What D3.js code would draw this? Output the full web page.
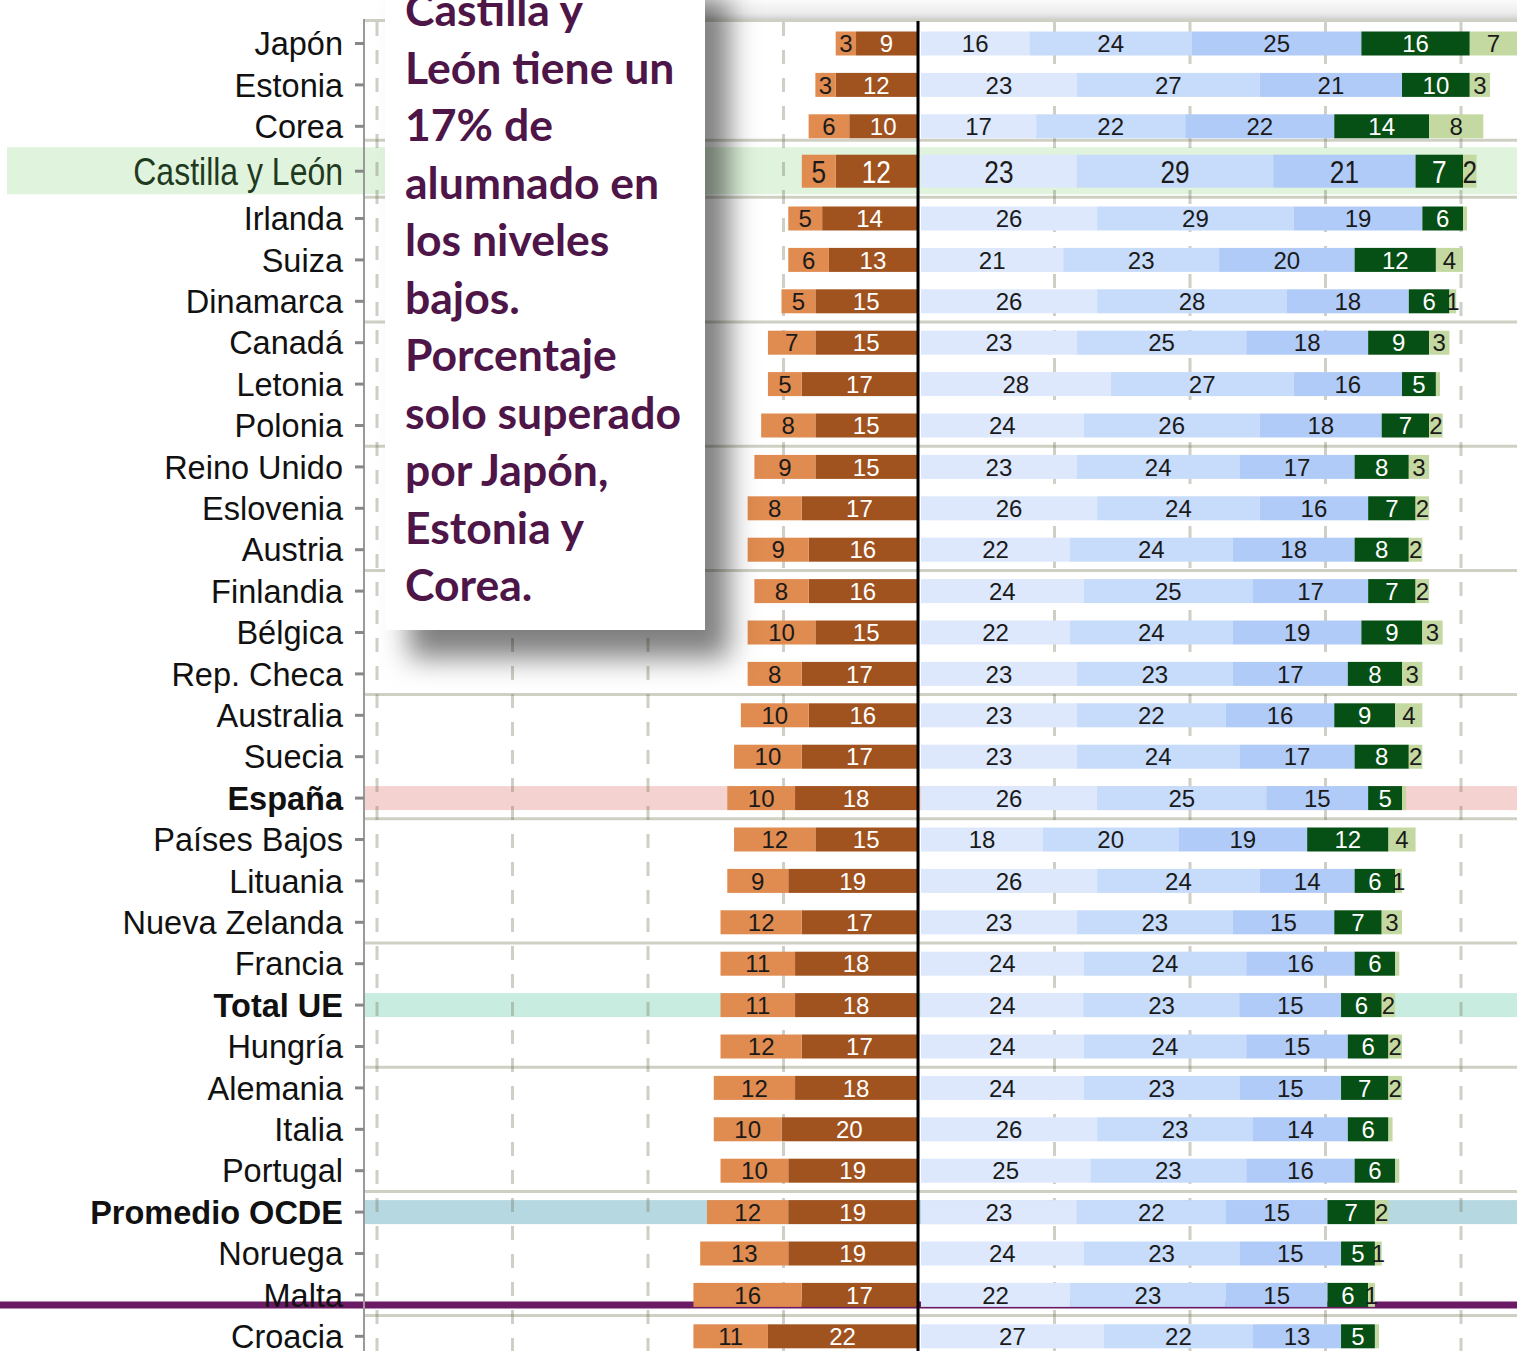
<!DOCTYPE html>
<html>
<head>
<meta charset="utf-8">
<script src="https://cdn.jsdelivr.net/npm/d3@7"></script>
<style>
  body { margin: 0; background: #fff; }
  svg { display: block; }
</style>
</head>
<body>
<div id="chart"></div>
<script>
// Rows, top to bottom
var countries = ["Japón", "Estonia", "Corea", "Castilla y León", "Irlanda", "Suiza", "Dinamarca",
  "Canadá", "Letonia", "Polonia", "Reino Unido", "Eslovenia", "Austria", "Finlandia", "Bélgica",
  "Rep. Checa", "Australia", "Suecia", "España", "Países Bajos", "Lituania", "Nueva Zelanda",
  "Francia", "Total UE", "Hungría", "Alemania", "Italia", "Portugal", "Promedio OCDE", "Noruega",
  "Malta", "Croacia"];

// Percentages per level
var below1 = [3, 3, 6, 5, 5, 6, 5, 7, 5, 8, 9, 8, 9, 8, 10, 8, 10, 10, 10, 12, 9, 12, 11, 11, 12, 12, 10, 10, 12, 13, 16, 11];
var level1 = [9, 12, 10, 12, 14, 13, 15, 15, 17, 15, 15, 17, 16, 16, 15, 17, 16, 17, 18, 15, 19, 17, 18, 18, 17, 18, 20, 19, 19, 19, 17, 22];
var level2 = [16, 23, 17, 23, 26, 21, 26, 23, 28, 24, 23, 26, 22, 24, 22, 23, 23, 23, 26, 18, 26, 23, 24, 24, 24, 24, 26, 25, 23, 24, 22, 27];
var level3 = [24, 27, 22, 29, 29, 23, 28, 25, 27, 26, 24, 24, 24, 25, 24, 23, 22, 24, 25, 20, 24, 23, 24, 23, 24, 23, 23, 23, 22, 23, 23, 22];
var level4 = [25, 21, 22, 21, 19, 20, 18, 18, 16, 18, 17, 16, 18, 17, 19, 17, 16, 17, 15, 19, 14, 15, 16, 15, 15, 15, 14, 16, 15, 15, 15, 13];
var level5 = [16, 10, 14, 7, 6, 12, 6, 9, 5, 7, 8, 7, 8, 7, 9, 8, 9, 8, 5, 12, 6, 7, 6, 6, 6, 7, 6, 6, 7, 5, 6, 5];
var level6 = [7, 3, 8, 2, 0.6, 4, 1, 3, 0.6, 2, 3, 2, 2, 2, 3, 3, 4, 2, 0.6, 4, 1, 3, 0.6, 2, 2, 2, 0.6, 0.6, 2, 1, 1, 0.6];

var xTicks = [-80, -60, -40, -20, 20, 40, 60, 80];

// Callout text
var noteLines = ["Castilla y", "León tiene un", "17% de", "alumnado en", "los niveles", "bajos.",
  "Porcentaje", "solo superado", "por Japón,", "Estonia y", "Corea."];

// Highlighted rows
var featured = "Castilla y León";
var boldRows = ["España", "Total UE", "Promedio OCDE"];
var bandColors = { "España": "#f3d2cf", "Total UE": "#c9ece1", "Promedio OCDE": "#b6d8e1" };

var width = 1517;
var height = 1351;
var leftColors = { below1: "#e08b50", level1: "#a0531f" };
var rightKeys = ["level2", "level3", "level4", "level5", "level6"];
var rightColors = ["#dde8fc", "#c7dbfa", "#b1cbf8", "#064f15", "#c4d9a1"];
var darkKeys = ["level1", "level5"];
var labelFont = "'Liberation Sans', Arial, sans-serif";

var table = countries.map((c, i) => ({
  country: c, below1: below1[i], level1: level1[i], level2: level2[i],
  level3: level3[i], level4: level4[i], level5: level5[i], level6: level6[i]
}));

var featIdx = countries.indexOf(featured);

// y: even steps, the featured row gets a bit more room
var yBase = d3.scaleLinear().domain([0, countries.length - 1]).range([43.5, 43.5 + 41.4 * (countries.length - 1)]);
function y(i) {
  if (i < featIdx) return yBase(i);
  if (i === featIdx) return yBase(i) + 3.5;
  return yBase(i) + 9.4;
}

var x = d3.scaleLinear().domain([-80, 80]).range([377, 1461]);
var gap = 2;
var axisX = 364;

var svg = d3.select("#chart").append("svg")
  .attr("width", width)
  .attr("height", height)
  .style("font-family", labelFont);

var defs = svg.append("defs");
var shadow = defs.append("filter").attr("id", "shadow")
  .attr("x", "-20%").attr("y", "-20%").attr("width", "150%").attr("height", "150%");
shadow.append("feDropShadow")
  .attr("dx", 24).attr("dy", 28).attr("stdDeviation", 14)
  .attr("flood-color", "#000").attr("flood-opacity", 0.5);

var topGrad = defs.append("linearGradient").attr("id", "topGrad")
  .attr("x1", 0).attr("y1", 0).attr("x2", 0).attr("y2", 1);
topGrad.append("stop").attr("offset", "0%").attr("stop-color", "#fbfbfb");
topGrad.append("stop").attr("offset", "70%").attr("stop-color", "#ececec");
topGrad.append("stop").attr("offset", "100%").attr("stop-color", "#d2d2d2");

// Faint shadow strip above the plot
svg.append("rect")
  .attr("x", 705).attr("y", 0).attr("width", width - 705).attr("height", 19)
  .attr("fill", "url(#topGrad)");

// Highlight bands
svg.append("rect")
  .attr("x", 7).attr("y", y(featIdx) - 24).attr("width", width - 7).attr("height", 47)
  .attr("fill", "#e0f4dd");

svg.selectAll(".band")
  .data(table.filter(d => bandColors[d.country]))
  .enter().append("rect")
  .attr("class", "band")
  .attr("x", axisX)
  .attr("y", d => y(countries.indexOf(d.country)) - 12)
  .attr("width", width - axisX)
  .attr("height", 24)
  .attr("fill", d => bandColors[d.country]);

// Horizontal grid lines every three rows
var hLines = [y(0) - 23, y(featIdx) - 31, y(featIdx) + 26];
for (var i = featIdx + 3; i < countries.length; i += 3) {
  hLines.push((y(i) + y(i + 1)) / 2);
}
svg.selectAll(".hgrid")
  .data(hLines)
  .enter().append("line")
  .attr("class", "hgrid")
  .attr("x1", axisX).attr("x2", width)
  .attr("y1", d => d).attr("y2", d => d)
  .attr("stroke", "#cfd0c3")
  .attr("stroke-width", 3);

// Vertical dashed grid lines
svg.selectAll(".vgrid")
  .data(xTicks)
  .enter().append("line")
  .attr("class", "vgrid")
  .attr("x1", d => x(d)).attr("x2", d => x(d))
  .attr("y1", 22).attr("y2", height)
  .attr("stroke", "rgba(110,110,80,0.33)")
  .attr("stroke-width", 3)
  .attr("stroke-dasharray", "14,14");

// Purple marker line under Malta
var maltaY = y(countries.indexOf("Malta"));
svg.append("line")
  .attr("x1", 0).attr("x2", width)
  .attr("y1", maltaY + 10).attr("y2", maltaY + 10)
  .attr("stroke", "#6b1a64")
  .attr("stroke-width", 7);

function barH(i) { return i === featIdx ? 33 : 24; }

// Left side: level 1 next to zero, below level 1 outside
var leftStack = d3.stack().keys(["level1", "below1"])(table);
var leftG = svg.selectAll(".left")
  .data(leftStack)
  .enter().append("g")
  .attr("class", "left")
  .attr("fill", d => leftColors[d.key]);

leftG.selectAll("rect")
  .data(d => d)
  .enter().append("rect")
  .attr("x", d => x(-d[1]) - gap)
  .attr("y", (d, i) => y(i) - barH(i) / 2)
  .attr("width", d => x(-d[0]) - x(-d[1]))
  .attr("height", (d, i) => barH(i));

// Right side: levels 2 to 6
var rightStack = d3.stack().keys(rightKeys)(table);
var rightG = svg.selectAll(".right")
  .data(rightStack)
  .enter().append("g")
  .attr("class", "right")
  .attr("fill", (d, k) => rightColors[k]);

rightG.selectAll("rect")
  .data(d => d)
  .enter().append("rect")
  .attr("x", d => x(d[0]) + gap)
  .attr("y", (d, i) => y(i) - barH(i) / 2)
  .attr("width", d => x(d[1]) - x(d[0]))
  .attr("height", (d, i) => barH(i));

// Segment labels (the featured row is bigger and condensed)
function addLabels(stack, sign, offset) {
  stack.forEach(layer => {
    svg.append("g").selectAll("text")
      .data(layer.map((d, i) => ({ d: d, i: i, v: d[1] - d[0] })).filter(e => e.v >= 1))
      .enter().append("text")
      .attr("transform", e => "translate(" + (x(sign * (e.d[0] + e.d[1]) / 2) + offset) + "," + y(e.i) + ")" +
        (e.i === featIdx ? " scale(0.82,1)" : ""))
      .attr("dy", "0.36em")
      .attr("text-anchor", "middle")
      .style("font-size", e => e.i === featIdx ? "32px" : "24px")
      .attr("fill", darkKeys.includes(layer.key) ? "#ffffff" : "#1a1a1a")
      .text(e => Math.round(e.v));
  });
}
addLabels(leftStack, -1, -gap);
addLabels(rightStack, 1, gap);

// Zero line
svg.append("line")
  .attr("x1", x(0) - 1).attr("x2", x(0) - 1)
  .attr("y1", 21).attr("y2", height)
  .attr("stroke", "#000")
  .attr("stroke-width", 3);

// Y axis
svg.append("line")
  .attr("x1", axisX).attr("x2", axisX)
  .attr("y1", 19).attr("y2", height)
  .attr("stroke", "#9a9a9a")
  .attr("stroke-width", 2);

svg.selectAll(".tick")
  .data(countries)
  .enter().append("line")
  .attr("class", "tick")
  .attr("x1", axisX - 9).attr("x2", axisX)
  .attr("y1", (d, i) => y(i)).attr("y2", (d, i) => y(i))
  .attr("stroke", "#888")
  .attr("stroke-width", 3);

svg.selectAll(".ylabel")
  .data(countries)
  .enter().append("text")
  .attr("class", "ylabel")
  .attr("transform", (d, i) => "translate(343," + y(i) + ")" + (d === featured ? " scale(0.82,1)" : ""))
  .attr("dy", "0.36em")
  .attr("text-anchor", "end")
  .style("font-size", d => d === featured ? "39px" : "32.5px")
  .style("font-weight", d => boldRows.includes(d) ? "bold" : "normal")
  .attr("fill", d => d === featured ? "#1f3a1f" : "#111")
  .text(d => d);

// Callout box
svg.append("rect")
  .attr("x", 385).attr("y", -30)
  .attr("width", 320).attr("height", 660)
  .attr("fill", "#fff")
  .attr("filter", "url(#shadow)");

svg.append("g").selectAll("text")
  .data(noteLines)
  .enter().append("text")
  .attr("x", 405)
  .attr("y", (d, i) => 26 + i * 57.5)
  .style("font-family", "Lato, 'Open Sans', sans-serif")
  .style("font-weight", "bold")
  .style("font-size", "44.5px")
  .attr("fill", "#4e1548")
  .text(d => d);
</script>
</body>
</html>
